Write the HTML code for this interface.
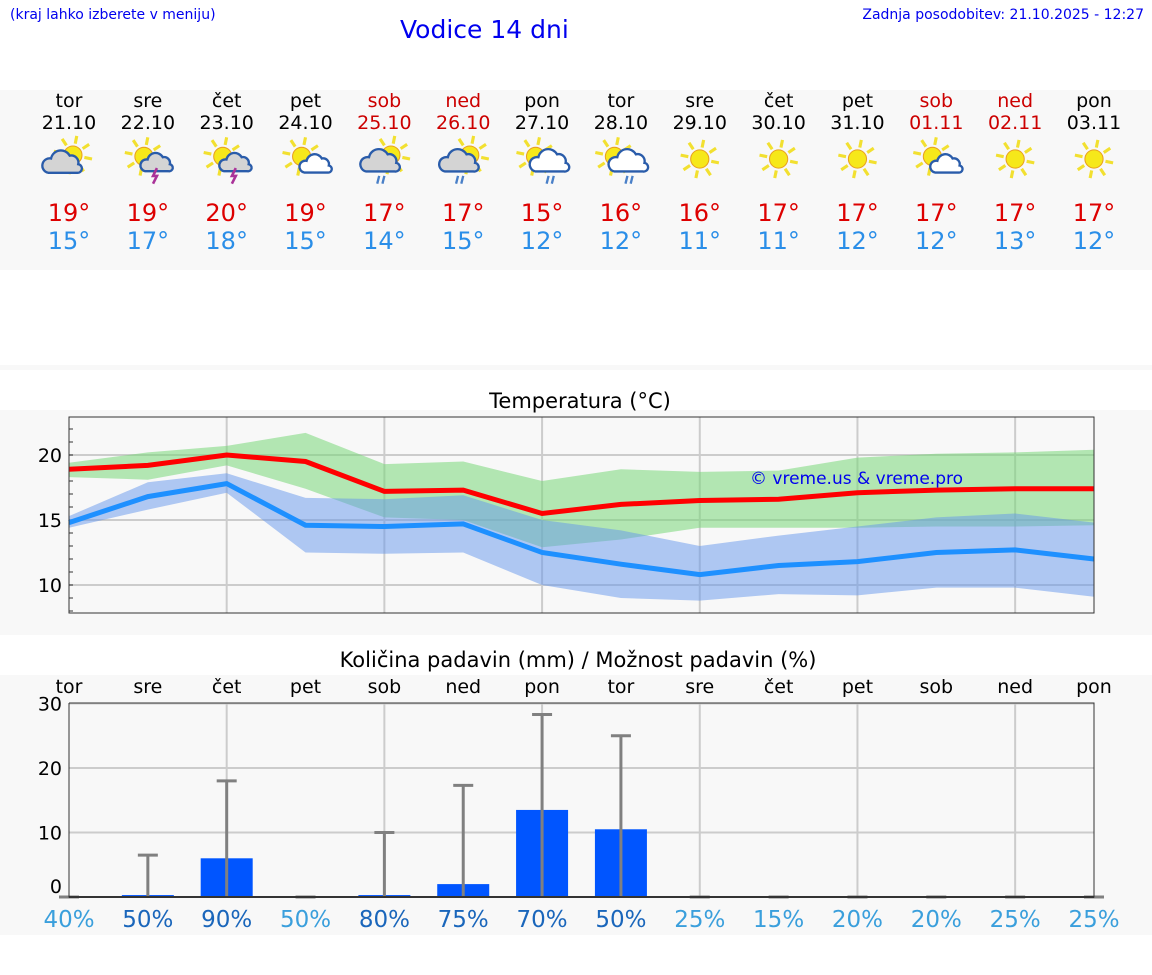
<!DOCTYPE html>
<html><head><meta charset="utf-8">
<style>
body{margin:0;width:1152px;height:975px;background:#fff;font-family:"DejaVu Sans","Liberation Sans",sans-serif;position:relative;overflow:hidden}
.abs{position:absolute}
</style></head><body>
<div class="abs" style="left:10px;top:7px;font-size:14px;color:#0000ee">(kraj lahko izberete v meniju)</div>
<div class="abs" style="left:400px;top:15px;font-size:25px;color:#0000ee">Vodice 14 dni</div>
<div class="abs" style="right:8px;top:7px;font-size:14px;color:#0000ee">Zadnja posodobitev: 21.10.2025 - 12:27</div>
<div class="abs" style="left:0;top:90px;width:1152px;height:180px;background:#f8f8f8"></div>
<div class="abs" style="left:0;top:365px;width:1152px;height:5px;background:#f8f8f8"></div>
<div class="abs" style="left:0;top:410px;width:1152px;height:225px;background:#f8f8f8"></div>
<div class="abs" style="left:0;top:675px;width:1152px;height:260px;background:#f8f8f8"></div>
<svg id="s" class="abs" style="left:0;top:0" width="1152" height="975"></svg>
<script>
const days=["tor","sre","čet","pet","sob","ned","pon","tor","sre","čet","pet","sob","ned","pon"];
const dates=["21.10","22.10","23.10","24.10","25.10","26.10","27.10","28.10","29.10","30.10","31.10","01.11","02.11","03.11"];
const weekend=[0,0,0,0,1,1,0,0,0,0,0,1,1,0];
const icons=[0,1,1,2,3,3,4,4,5,5,5,2,5,5];
const tmax=[19,19,20,19,17,17,15,16,16,17,17,17,17,17];
const tmin=[15,17,18,15,14,15,12,12,11,11,12,12,13,12];
const maxLine=[18.9,19.2,20.0,19.5,17.2,17.3,15.5,16.2,16.5,16.6,17.1,17.3,17.4,17.4];
const maxHi=[19.4,20.2,20.7,21.7,19.3,19.5,18.0,18.9,18.7,18.8,19.8,20.1,20.2,20.4];
const maxLo=[18.3,18.1,19.2,17.4,15.2,15.0,12.9,13.5,14.4,14.4,14.4,14.5,14.5,14.6];
const minLine=[14.8,16.8,17.8,14.6,14.5,14.7,12.5,11.6,10.8,11.5,11.8,12.5,12.7,12.0];
const minHi=[15.3,17.9,18.6,16.7,16.6,16.9,15.0,14.2,13.0,13.8,14.5,15.2,15.5,14.8];
const minLo=[14.4,15.8,17.1,12.5,12.4,12.5,10.0,9.0,8.8,9.3,9.2,9.8,9.8,9.1];
const tempTicks=[10,15,20];
const precip=[0,0.3,6,0,0.3,2,13.5,10.5,0,0,0,0,0,0];
const precipMax=[0,6.5,18,0,10,17.3,28.3,25,0,0,0,0,0,0];
const chance=[40,50,90,50,80,75,70,50,25,15,20,20,25,25];
const chanceDark=[0,1,1,0,1,1,1,1,0,0,0,0,0,0];
const precipTicks=[0,10,20,30];

const S=document.getElementById('s');const NS="http://www.w3.org/2000/svg";
function mk(t,a,p){const e=document.createElementNS(NS,t);for(const k in a)e.setAttribute(k,a[k]);(p||S).appendChild(e);return e;}
const X0=69,X1=1094;const xd=i=>X0+i*(X1-X0)/13;
const yT=v=>455+(20-v)*13;const yP=v=>897-v*6.45;

days.forEach((d,i)=>{const x=xd(i);const c=weekend[i]?"#cc0000":"#000";
 let t=mk('text',{x:x,y:107,'text-anchor':'middle','font-size':19,fill:c});t.textContent=d;
 
 t=mk('text',{x:x,y:129,'text-anchor':'middle','font-size':19,fill:c});t.textContent=dates[i];
 
 t=mk('text',{x:x,y:221,'text-anchor':'middle','font-size':24,fill:"#dd0000"});t.textContent=tmax[i]+"°";
 
 t=mk('text',{x:x,y:249,'text-anchor':'middle','font-size':24,fill:"#2a8ee8"});t.textContent=tmin[i]+"°";
 
 const g=mk('g',{transform:`translate(${x},159) scale(1.3)`});
 
 const ty=icons[i];
 const sun=(cx,cy,r)=>{for(let a=0;a<8;a++){const an=a*Math.PI/4+0.2;mk('line',{x1:cx+Math.cos(an)*(r+2),y1:cy+Math.sin(an)*(r+2),x2:cx+Math.cos(an)*(r+8),y2:cy+Math.sin(an)*(r+8),stroke:"#f2e030","stroke-width":2.4},g);}mk('circle',{cx:cx,cy:cy,r:r,fill:"#f6e81a",stroke:"#e8a020","stroke-width":0.8},g);};
 const cloud=(cx,cy,s,f)=>{mk('path',{d:`M${cx-10*s},${cy+6*s} a${5*s},${5*s} 0 0 1 ${2*s},${-10*s} a${7*s},${7*s} 0 0 1 ${13*s},${-2*s} a${5*s},${5*s} 0 0 1 ${6*s},${6*s} a${3*s},${3*s} 0 0 1 ${-1*s},${6*s} z`,fill:f,stroke:"#2a5caa","stroke-width":1.8},g);};
 if(ty===5){sun(0,0,7);}
 else if(ty===0){sun(3,-3,7);cloud(-5,4,1.1,"#d4d4d4");}
 else if(ty===1){sun(-3,-2,7);cloud(7,4,0.9,"#d4d4d4");mk('path',{d:"M7,7 l-3,6 h3 l-3,6",stroke:"#aa3399","stroke-width":2,fill:"none"},g);}
 else if(ty===2){sun(-3,-2,7);cloud(8,5,0.9,"#fff");}
 else if(ty===3){sun(5,-3,7);cloud(-3,3,1.1,"#d4d4d4");mk('path',{d:"M-4,13 l-1.5,6 M0,13 l-1.5,6",stroke:"#4a80c8","stroke-width":1.8},g);}
 else if(ty===4){sun(-5,-2,7);cloud(6,3,1.1,"#fff");mk('path',{d:"M5,13 l-1.5,6 M9,13 l-1.5,6",stroke:"#4a80c8","stroke-width":1.8},g);}
});

let t=mk('text',{x:580,y:408,'text-anchor':'middle','font-size':21,fill:"#000"});t.textContent="Temperatura (°C)";

mk('rect',{x:X0,y:417,width:X1-X0,height:196,fill:"#f8f8f8"});
tempTicks.forEach(v=>{mk('line',{x1:X0,x2:X1,y1:yT(v),y2:yT(v),stroke:"#ccc","stroke-width":2});
 const l=mk('text',{x:62,y:yT(v)+7,'text-anchor':'end','font-size':19,fill:"#000"});l.textContent=v;
 });
for(let v=8;v<=22;v++)mk('line',{x1:X0,x2:X0+4,y1:yT(v),y2:yT(v),stroke:"#333"});
for(let i=2;i<13;i+=2)mk('line',{x1:xd(i),x2:xd(i),y1:417,y2:613,stroke:"#ccc","stroke-width":2});
const band=(hi,lo,col,name)=>{let d="M"+hi.map((v,i)=>xd(i)+","+yT(v)).join(" L");d+=" L"+lo.map((v,i)=>xd(i)+","+yT(v)).reverse().join(" L")+"Z";const p=mk('path',{d:d,fill:col});};
band(maxHi,maxLo,"rgba(120,215,120,0.55)",'max-temp-range');
band(minHi,minLo,"rgba(100,150,235,0.5)",'min-temp-range');
const line=(arr,col,name)=>{const p=mk('polyline',{points:arr.map((v,i)=>xd(i)+","+yT(v)).join(" "),fill:"none",stroke:col,"stroke-width":5});};
line(maxLine,"#ff0000",'max-temp-line');line(minLine,"#1e90ff",'min-temp-line');
mk('rect',{x:X0,y:417,width:X1-X0,height:196,fill:"none",stroke:"#333","stroke-width":1});
t=mk('text',{x:750,y:484,'font-size':17,fill:"#0000ee"});t.textContent="© vreme.us & vreme.pro";


t=mk('text',{x:578,y:667,'text-anchor':'middle','font-size':21,fill:"#000"});t.textContent="Količina padavin (mm) / Možnost padavin (%)";

days.forEach((d,i)=>{const l=mk('text',{x:xd(i),y:693,'text-anchor':'middle','font-size':19,fill:"#000"});l.textContent=d;
 });
precipTicks.forEach(v=>{if(v>0)mk('line',{x1:X0,x2:X1,y1:yP(v),y2:yP(v),stroke:"#ccc","stroke-width":2});
 const l=mk('text',{x:62,y:yP(v)+(v?7:-4),'text-anchor':'end','font-size':19,fill:"#000"});l.textContent=v;
 });
for(let i=2;i<13;i+=2)mk('line',{x1:xd(i),x2:xd(i),y1:703,y2:897,stroke:"#ccc","stroke-width":2});
precip.forEach((v,i)=>{const x=xd(i);
 if(v>0){const b=mk('rect',{x:x-26,y:yP(v),width:52,height:897-yP(v),fill:"#0055ff"});}
 const e=precipMax[i];
 if(e>0){const l=mk('line',{x1:x,x2:x,y1:yP(e),y2:897,stroke:"#808080","stroke-width":3});}
 mk('line',{x1:x-10,x2:x+10,y1:yP(e),y2:yP(e),stroke:"#808080","stroke-width":3});
 const c=mk('text',{x:x,y:927,'text-anchor':'middle','font-size':23,fill:chanceDark[i]?"#1a66bb":"#3a9fdc"});c.textContent=chance[i]+"%";
 });
mk('polyline',{points:`${X0},703 ${X0},897 ${X1},897 ${X1},703 ${X0},703`,fill:"none",stroke:"#333","stroke-width":1});
mk('line',{x1:X0,x2:X1,y1:897,y2:897,stroke:"#333","stroke-width":2});
</script>
</body></html>
